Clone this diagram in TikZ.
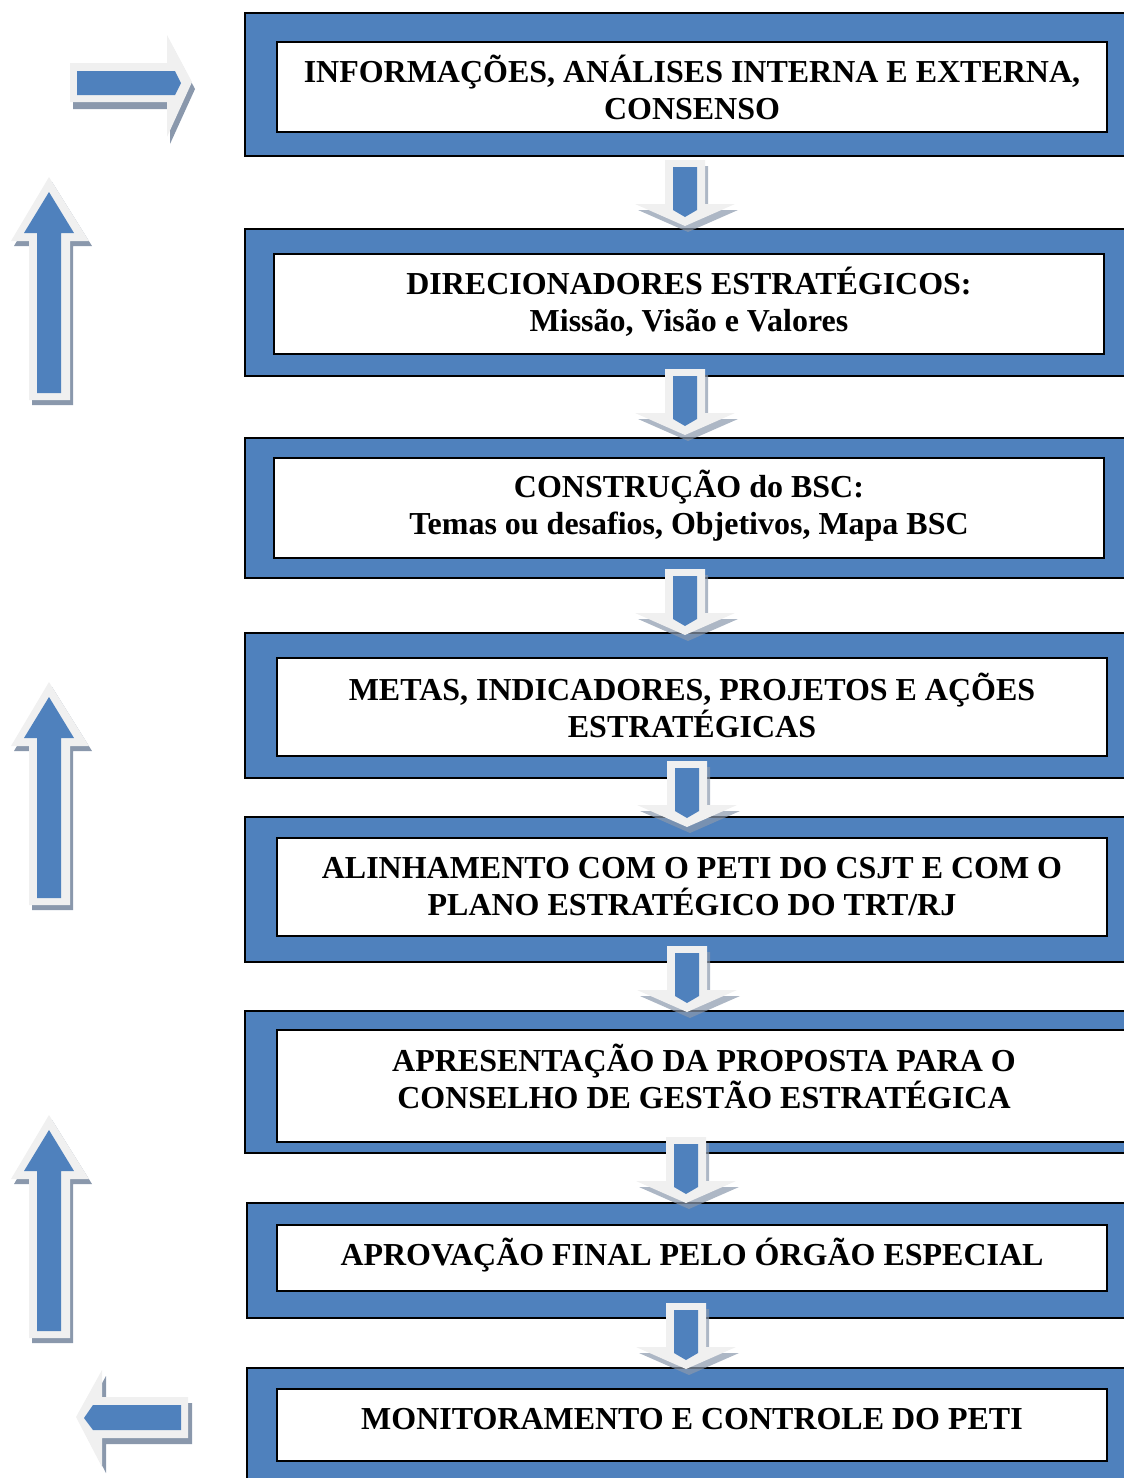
\documentclass[tikz,border=0pt]{standalone}
\usepackage{fontspec}
\setmainfont{Liberation Serif}
\usetikzlibrary{positioning}
\definecolor{azul}{RGB}{79,129,189}
\definecolor{contorno}{RGB}{240,240,240}
\definecolor{sombra}{RGB}{138,152,172}
\tikzset{
  fora/.style = {draw=black, line width=1.1pt, fill=azul},
  dentro/.style = {draw=black, line width=1.4pt, fill=white},
  etapa/.style = {align=center, inner sep=0pt, font=\bfseries\fontsize{18.2}{21}\selectfont},
  seta baixo/.pic = {
    \fill[sombra, opacity=.7] (-17,6) -- (23,6) -- (23,50) -- (53,50) -- (3,72) -- (-47,50) -- (-17,50) -- cycle;
    \fill[contorno] (-20,0) -- (20,0) -- (20,44) -- (50,44) -- (0,66) -- (-50,44) -- (-20,44) -- cycle;
    \fill[azul] (-12,7) -- (12,7) -- (12,50) -- (0,57) -- (-12,50) -- cycle;
  },
  seta cima/.pic = {
    \fill[sombra] (3,5) -- (43,69) -- (24,69) -- (24,228) -- (-17,228) -- (-17,69) -- (-35,69) -- cycle;
    \fill[contorno] (0,0) -- (40,64) -- (21,64) -- (21,223) -- (-20,223) -- (-20,64) -- (-38,64) -- cycle;
    \fill[azul] (0,15) -- (25,56) -- (12,56) -- (12,216) -- (-12,216) -- (-12,56) -- (-25,56) -- cycle;
  },
  seta direita/.pic = {
    \fill[sombra] (3,7) -- (-22,-40) -- (-22,-12) -- (-119,-12) -- (-119,27) -- (-22,27) -- (-22,62) -- cycle;
    \fill[contorno] (0,0) -- (-25,-47) -- (-25,-19) -- (-122,-19) -- (-122,20) -- (-25,20) -- (-25,55) -- cycle;
    \fill[azul] (-11,1) -- (-17,-11) -- (-115,-11) -- (-115,13) -- (-17,13) -- cycle;
  },
  seta esquerda/.pic = {
    \fill[sombra] (4,6) -- (30,-41) -- (30,-14) -- (116,-14) -- (116,27) -- (30,27) -- (30,56) -- cycle;
    \fill[contorno] (0,0) -- (26,-47) -- (26,-20) -- (112,-20) -- (112,21) -- (26,21) -- (26,50) -- cycle;
    \fill[azul] (8,1) -- (17,-12) -- (105,-12) -- (105,13) -- (17,13) -- cycle;
  },
}

\begin{document}
\begin{tikzpicture}[x=0.02cm, y=-0.02cm]
\useasboundingbox (0,0) rectangle (1124,1478);
\clip (0,0) rectangle (1124,1478);
% caixas=========================

\draw[fora] (245,13) rectangle (1140,156);
\draw[dentro] (277,42) rectangle (1107,132);
\node[etapa] (e1) at (692,87) {INFORMAÇÕES, ANÁLISES INTERNA E EXTERNA,\\CONSENSO};

\draw[fora] (245,229) rectangle (1140,376);
\draw[dentro] (274,254) rectangle (1104,354);
\node[etapa] (e2) at (689,302) {DIRECIONADORES ESTRATÉGICOS:\\Missão, Visão e Valores};

\draw[fora] (245,438) rectangle (1140,578);
\draw[dentro] (274,458) rectangle (1104,558);
\node[etapa] (e3) at (689,506) {CONSTRUÇÃO do BSC:\\Temas ou desafios, Objetivos, Mapa BSC};

\draw[fora] (245,633) rectangle (1140,778);
\draw[dentro] (277,658) rectangle (1107,756);
\node[etapa] (e4) at (692,705) {METAS, INDICADORES, PROJETOS E AÇÕES\\ESTRATÉGICAS};

\draw[fora] (245,817) rectangle (1140,962);
\draw[dentro] (277,838) rectangle (1107,936);
\node[etapa] (e5) at (692,887) {ALINHAMENTO COM O PETI DO CSJT E COM O\\PLANO ESTRATÉGICO DO TRT/RJ};

\draw[fora] (245,1011) rectangle (1165,1153);
\draw[dentro] (277,1030) rectangle (1135,1142);
\node[etapa] (e6) at (704,1076) {APRESENTAÇÃO DA PROPOSTA PARA O\\CONSELHO DE GESTÃO ESTRATÉGICA};

\draw[fora] (247,1203) rectangle (1140,1318);
\draw[dentro] (277,1225) rectangle (1107,1291);
\node[etapa] (e7) at (692,1255) {APROVAÇÃO FINAL PELO ÓRGÃO ESPECIAL};

\draw[fora] (247,1368) rectangle (1140,1500);
\draw[dentro] (277,1389) rectangle (1107,1461);
\node[etapa] (e8) at (692,1419) {MONITORAMENTO E CONTROLE DO PETI};

% setas entre caixas
\pic at (685,160) {seta baixo};
\pic at (685,369) {seta baixo};
\pic at (685,569) {seta baixo};
\pic at (687,761) {seta baixo};
\pic at (687,946) {seta baixo};
\pic at (686,1137) {seta baixo};
\pic at (686,1303) {seta baixo};

% setas laterais
\pic at (192,82) {seta direita};
\pic at (49,177) {seta cima};
\pic at (49,682) {seta cima};
\pic at (49,1115) {seta cima};
\pic at (76,1417) {seta esquerda};

\end{tikzpicture}
\end{document}
